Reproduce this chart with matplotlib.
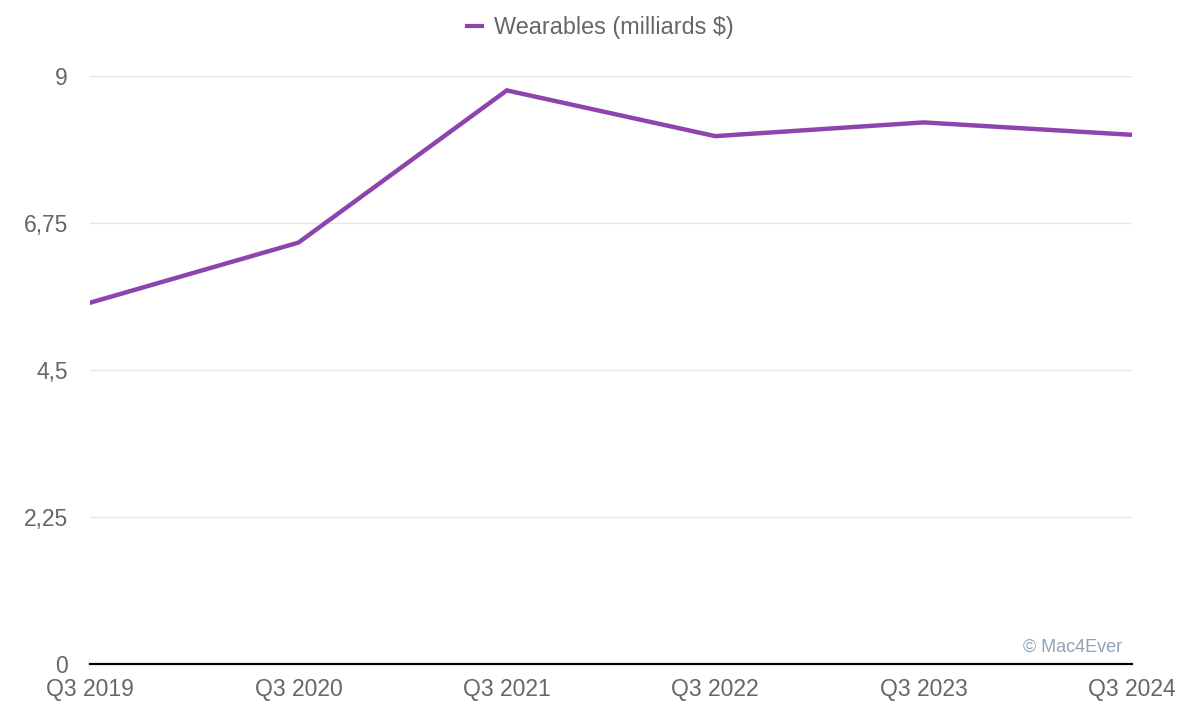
import matplotlib.pyplot as plt
from matplotlib.lines import Line2D

# Apple Wearables revenue, Q3 of each year (billions $)
quarters = ['Q3 2019', 'Q3 2020', 'Q3 2021', 'Q3 2022', 'Q3 2023', 'Q3 2024']
wearables = [5.53, 6.45, 8.78, 8.08, 8.29, 8.10]
y_ticks = [0, 2.25, 4.5, 6.75, 9]
y_tick_labels = ['0', '2,25', '4,5', '6,75', '9']

purple = '#8e44ad'
text_grey = '#666666'

plt.rcParams['font.family'] = ['Liberation Sans', 'DejaVu Sans']

fig = plt.figure(figsize=(12, 7.22), dpi=100)
ax = fig.add_axes([0.075, 0.0803, 0.8683, 0.8144])

x = list(range(len(quarters)))
ax.plot(x, wearables, color=purple, linewidth=3.2, solid_joinstyle='miter', zorder=3)

ax.set_xlim(0, len(quarters) - 1)
ax.set_ylim(0, 9)
ax.set_yticks(y_ticks)
ax.set_yticklabels(y_tick_labels)
ax.set_xticks(x)
ax.set_xticklabels(quarters)

ax.grid(axis='y', color='#e6e6e6', linewidth=1)
ax.set_axisbelow(True)
for side in ['top', 'right', 'left']:
    ax.spines[side].set_visible(False)
ax.spines['bottom'].set_color('#000000')
ax.spines['bottom'].set_linewidth(1.6)
ax.spines['bottom'].set_zorder(4)

ax.tick_params(axis='both', length=0, labelsize=16.5, labelcolor=text_grey)
ax.tick_params(axis='y', pad=16)
ax.tick_params(axis='x', pad=10)

# legend at the top
handle = Line2D([0], [0], color=purple, linewidth=3)
fig.legend([handle], ['Wearables (milliards $)'], loc='center', bbox_to_anchor=(0.5, 0.962),
           frameon=False, fontsize=16.8, labelcolor=text_grey, handlelength=0.65,
           handletextpad=0.5)

# watermark
ax.text(0.991, 0.028, '\u00a9 Mac4Ever', transform=ax.transAxes, ha='right', va='center',
        fontsize=13, color='#8fa3b8')

fig.savefig('out.png', dpi=100)
